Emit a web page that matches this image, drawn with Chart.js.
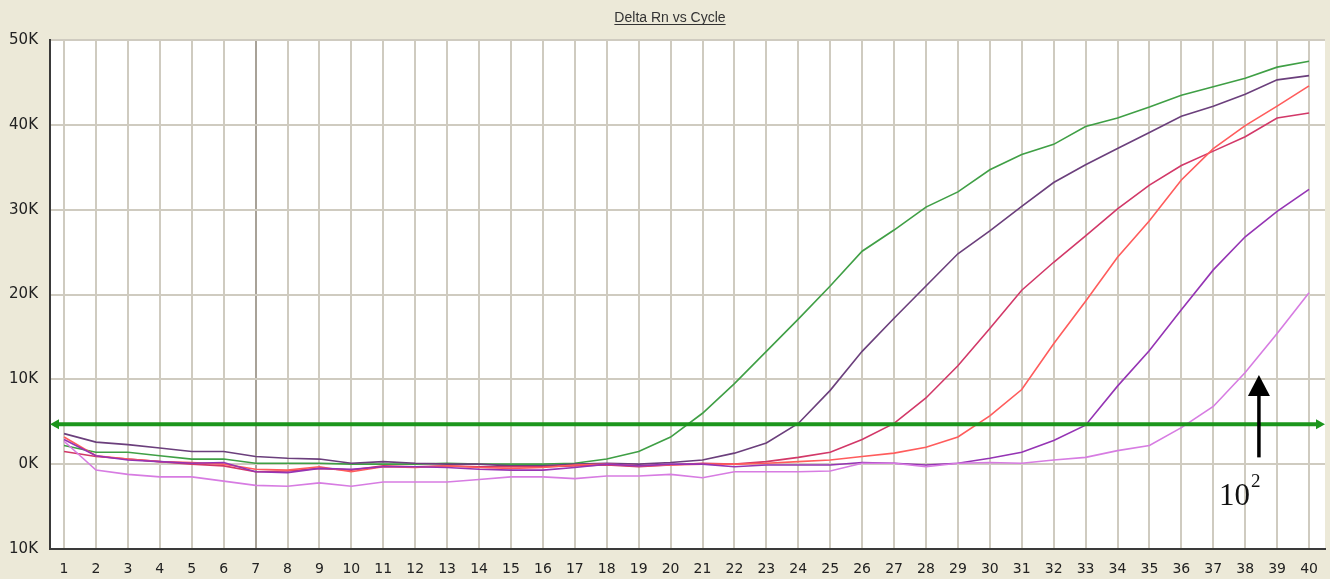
<!DOCTYPE html>
<html lang="en">
<head>
  <meta charset="UTF-8">
  <title>Delta Rn vs Cycle</title>
  <script src="https://cdn.jsdelivr.net/npm/chart.js"></script>
  <style>
    html, body { margin: 0; padding: 0; background: #ece9d8; }
  </style>
</head>
<body>
  <canvas id="grafico" width="1330" height="579"></canvas>

  <script>
    // ciclos y valores (en miles, K)
    const ciclos = [1, 2, 3, 4, 5, 6, 7, 8, 9, 10, 11, 12, 13, 14, 15, 16, 17, 18, 19, 20,
                    21, 22, 23, 24, 25, 26, 27, 28, 29, 30, 31, 32, 33, 34, 35, 36, 37, 38, 39, 40];

    const verde = [2.2, 1.4, 1.4, 1.0, 0.6, 0.6, 0.1, 0.1, 0.1, 0.0, 0.0, 0.0, 0.1, 0.0, 0.0, 0.0, 0.1, 0.6, 1.5, 3.2,
                   6.0, 9.5, 13.3, 17.1, 21.0, 25.1, 27.6, 30.3, 32.1, 34.7, 36.5, 37.7, 39.8, 40.8, 42.1, 43.5, 44.5, 45.5, 46.8, 47.5];
    const moradoOscuro = [3.6, 2.6, 2.3, 1.9, 1.5, 1.5, 0.9, 0.7, 0.6, 0.1, 0.3, 0.1, 0.0, 0.0, -0.2, -0.2, 0.0, 0.1, 0.0, 0.2,
                          0.5, 1.3, 2.5, 4.8, 8.7, 13.3, 17.2, 21.0, 24.8, 27.5, 30.4, 33.2, 35.3, 37.2, 39.1, 41.0, 42.2, 43.6, 45.3, 45.8];
    const carmesi = [1.5, 0.9, 0.6, 0.3, 0.0, -0.2, -0.9, -0.8, -0.5, -0.7, -0.2, -0.3, -0.2, -0.3, -0.3, -0.3, -0.2, -0.1, -0.3, -0.1,
                     0.1, 0.0, 0.3, 0.8, 1.4, 2.9, 4.8, 7.8, 11.6, 16.0, 20.5, 23.8, 26.9, 30.1, 32.9, 35.2, 36.9, 38.6, 40.8, 41.4];
    const salmon = [3.2, 1.0, 0.6, 0.3, 0.2, 0.0, -0.6, -0.7, -0.3, -0.9, -0.3, -0.4, -0.2, -0.4, -0.5, -0.4, -0.1, 0.0, -0.2, -0.1,
                    0.0, 0.0, 0.1, 0.3, 0.5, 0.9, 1.3, 2.0, 3.2, 5.7, 8.8, 14.2, 19.2, 24.4, 28.7, 33.5, 37.2, 39.9, 42.2, 44.6];
    const morado = [2.9, 1.0, 0.5, 0.3, 0.1, 0.2, -0.9, -1.0, -0.5, -0.6, -0.3, -0.3, -0.4, -0.6, -0.7, -0.7, -0.4, 0.0, -0.2, 0.0,
                    0.0, -0.3, -0.1, -0.1, -0.1, 0.2, 0.1, -0.1, 0.1, 0.7, 1.4, 2.8, 4.6, 9.2, 13.4, 18.2, 22.9, 26.8, 29.8, 32.4];
    const violeta = [2.7, -0.7, -1.2, -1.5, -1.5, -2.0, -2.5, -2.6, -2.2, -2.6, -2.1, -2.1, -2.1, -1.8, -1.5, -1.5, -1.7, -1.4, -1.4, -1.2,
                     -1.6, -0.9, -0.9, -0.9, -0.8, 0.1, 0.1, -0.3, 0.1, 0.2, 0.1, 0.5, 0.8, 1.6, 2.2, 4.3, 6.8, 10.8, 15.4, 20.2];

    const umbral = 4.7;          // linea de umbral (K)
    const flechaCiclo = 38.43;   // posicion de la flecha "10^2"
    const flechaDesde = 0.8;
    const flechaHasta = 10.5;

    const puntos = (serie) => ciclos.map((c, i) => ({ x: c, y: serie[i] }));

    const fondo = {
      id: 'fondo',
      beforeDraw(chart) {
        const { ctx, chartArea: a } = chart;
        ctx.save();
        ctx.fillStyle = '#ece9d8';
        ctx.fillRect(0, 0, chart.width, chart.height);
        ctx.fillStyle = '#ffffff';
        ctx.fillRect(a.left, a.top, a.right - a.left, a.bottom - a.top);
        ctx.restore();
      }
    };

    const titulo = {
      id: 'titulo',
      afterDraw(chart) {
        const ctx = chart.ctx;
        const texto = 'Delta Rn vs Cycle';
        ctx.save();
        ctx.font = '14px "Liberation Sans", Arial, sans-serif';
        ctx.fillStyle = '#333';
        ctx.textAlign = 'center';
        ctx.textBaseline = 'alphabetic';
        const cx = 670, base = 22;
        ctx.fillText(texto, cx, base);
        const w = ctx.measureText(texto).width;
        ctx.fillRect(cx - w / 2, base + 2, w, 1);
        ctx.restore();
      }
    };

    const anotaciones = {
      id: 'anotaciones',
      afterDatasetsDraw(chart) {
        const { ctx, chartArea: a, scales } = chart;
        const y = scales.y.getPixelForValue(umbral);
        ctx.save();
        // umbral verde con flechas
        ctx.strokeStyle = '#1c961c';
        ctx.fillStyle = '#1c961c';
        ctx.lineWidth = 4;
        ctx.beginPath();
        ctx.moveTo(a.left + 4, y);
        ctx.lineTo(a.right - 4, y);
        ctx.stroke();
        ctx.beginPath();
        ctx.moveTo(a.left, y);
        ctx.lineTo(a.left + 9, y - 5);
        ctx.lineTo(a.left + 9, y + 5);
        ctx.closePath();
        ctx.fill();
        ctx.beginPath();
        ctx.moveTo(a.right, y);
        ctx.lineTo(a.right - 9, y - 5);
        ctx.lineTo(a.right - 9, y + 5);
        ctx.closePath();
        ctx.fill();

        // flecha negra y etiqueta 10^2
        const x = scales.x.getPixelForValue(flechaCiclo);
        const y0 = scales.y.getPixelForValue(flechaDesde);
        const y1 = scales.y.getPixelForValue(flechaHasta);
        ctx.strokeStyle = '#000';
        ctx.fillStyle = '#000';
        ctx.lineWidth = 3.5;
        ctx.beginPath();
        ctx.moveTo(x, y0);
        ctx.lineTo(x, y1 + 16);
        ctx.stroke();
        ctx.beginPath();
        ctx.moveTo(x, y1);
        ctx.lineTo(x - 11, y1 + 21);
        ctx.lineTo(x + 11, y1 + 21);
        ctx.closePath();
        ctx.fill();

        ctx.fillStyle = '#111';
        ctx.font = '31px "Liberation Serif", "Times New Roman", serif';
        ctx.textAlign = 'right';
        ctx.textBaseline = 'alphabetic';
        ctx.fillText('10', x - 9, scales.y.getPixelForValue(-4.85));
        ctx.font = '19px "Liberation Serif", "Times New Roman", serif';
        ctx.textAlign = 'left';
        ctx.fillText('2', x - 8, scales.y.getPixelForValue(-2.75));
        ctx.restore();
      }
    };

    const serie = (datos, color) => ({
      data: puntos(datos),
      borderColor: color,
      borderWidth: 1.6,
      pointRadius: 0,
      tension: 0,
      fill: false
    });

    new Chart(document.getElementById('grafico'), {
      type: 'line',
      data: {
        datasets: [
          serie(violeta, '#d77ce2'),
          serie(morado, '#9534b4'),
          serie(salmon, '#ff5c5c'),
          serie(carmesi, '#d23868'),
          serie(moradoOscuro, '#6b3f7c'),
          serie(verde, '#3f9f45')
        ]
      },
      options: {
        responsive: false,
        animation: false,
        devicePixelRatio: 1,
        layout: { padding: { top: 40, right: 4, left: 0, bottom: 0 } },
        plugins: {
          legend: { display: false },
          tooltip: { enabled: false }
        },
        scales: {
          x: {
            type: 'linear',
            min: 0.56,
            max: 40.5,
            afterBuildTicks: (scale) => { scale.ticks = ciclos.map(v => ({ value: v })); },
            afterFit: (scale) => { scale.height = 30; },
            ticks: {
              autoSkip: false,
              maxRotation: 0,
              padding: 12,
              color: '#222',
              font: { family: '"DejaVu Sans", sans-serif', size: 14 },
              callback: (v) => String(v)
            },
            grid: {
              drawTicks: false,
              lineWidth: 2,
              color: (c) => (c.tick && c.tick.value === 7) ? '#a8a298' : '#cfcbc0'
            },
            border: { color: '#3a3a3a', width: 2 }
          },
          y: {
            min: -10,
            max: 50,
            afterFit: (scale) => { scale.width = 50; },
            ticks: {
              stepSize: 10,
              padding: 12,
              color: '#222',
              font: { family: '"DejaVu Sans", sans-serif', size: 15 },
              callback: (v) => Math.abs(v) + 'K'
            },
            grid: {
              drawTicks: false,
              lineWidth: 2,
              color: '#cfcbc0'
            },
            border: { color: '#3a3a3a', width: 2 }
          }
        }
      },
      plugins: [fondo, titulo, anotaciones]
    });
  </script>
</body>
</html>
